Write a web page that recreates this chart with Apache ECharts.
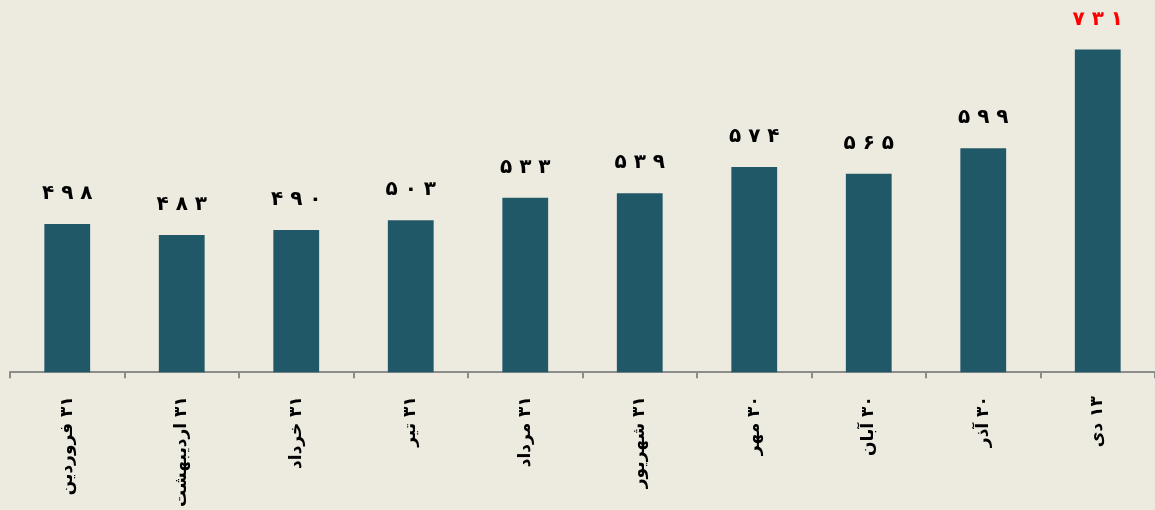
<!DOCTYPE html>
<html>
<head>
<meta charset="utf-8">
<script src="https://cdn.jsdelivr.net/npm/echarts@6/dist/echarts.min.js"></script>
<style>
html,body{margin:0;padding:0;background:#EDEBE0;}
#c{width:1155px;height:510px;}
</style>
</head>
<body>
<div id="c"></div>
<script>
const categories = ["۳۱ فروردین","۳۱ اردیبهشت","۳۱ خرداد","۳۱ تیر","۳۱ مرداد","۳۱ شهریور","۳۰ مهر","۳۰ آبان","۳۰ آذر","۱۳ دی"];
const values = [498, 483, 490, 503, 533, 539, 574, 565, 599, 731];
const highlightIndex = 9;

const fa = '۰۱۲۳۴۵۶۷۸۹';
function toFa(n){ return String(n).split('').map(d => fa[+d]).join(' '); }

const chart = echarts.init(document.getElementById('c'), null, {renderer:'canvas'});
chart.setOption({
  backgroundColor: '#EDEBE0',
  animation: false,
  grid: {left: 10, right: 0, top: 0, bottom: 136, containLabel: false},
  xAxis: {
    type: 'category',
    data: categories,
    axisLine: {show: true, lineStyle: {color: '#8C8C8C', width: 2}},
    axisTick: {show: true, length: 6, alignWithLabel: false, lineStyle: {color: '#8C8C8C', width: 2}},
    axisLabel: {
      rotate: 90, margin: 24, interval: 0,
      fontFamily: 'DejaVu Sans', fontWeight: 'bold', fontSize: 17, color: '#000',
      formatter: v => '\u200F' + v
    }
  },
  yAxis: {type: 'value', show: false, min: 300, max: 797, splitLine: {show: false}},
  series: [{
    type: 'bar',
    barWidth: '40%',
    data: values.map((v, i) => ({
      value: v,
      label: i === highlightIndex ? {color: '#FF0000'} : undefined
    })),
    itemStyle: {color: '#215868'},
    label: {
      show: true, position: 'top', distance: 20,
      fontFamily: 'DejaVu Sans', fontWeight: 'bold', fontSize: 20, color: '#000',
      formatter: p => toFa(p.value)
    }
  }]
});
</script>
</body>
</html>
